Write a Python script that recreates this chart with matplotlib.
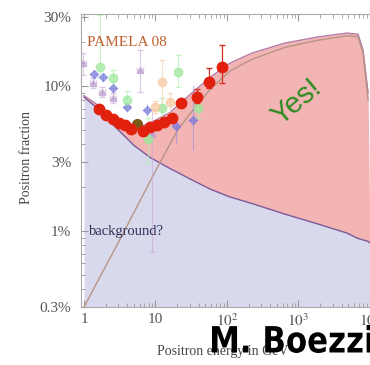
import matplotlib.pyplot as plt
from matplotlib.ticker import LogLocator, NullFormatter, FixedLocator, FixedFormatter
from matplotlib.textpath import TextPath
from matplotlib.patches import PathPatch
from matplotlib.font_manager import FontProperties
from matplotlib.transforms import Affine2D

plt.rcParams['mathtext.fontset'] = 'stix'
SERIF = 'Liberation Serif'

# model curves: secondary background and background + extra source
energy = [1, 1.5, 2, 3, 5, 8.4, 16, 30, 58, 110, 224, 646, 1870, 4750, 6800, 8000, 9400, 10000, 14000]
background = [0.084, 0.071, 0.061, 0.050, 0.039, 0.0322, 0.027, 0.023, 0.0195, 0.0172,
              0.0155, 0.0131, 0.0112, 0.0097, 0.0089, 0.0087, 0.0085, 0.0083, 0.0075]
total = [0.086, 0.075, 0.066, 0.058, 0.051, 0.0556, 0.066, 0.087, 0.115, 0.144,
         0.169, 0.198, 0.218, 0.232, 0.228, 0.177, 0.09, 0.0083, 0.0075]

sig_energy = [1, 3, 10, 20, 30, 58, 110, 224, 646, 1870, 4750, 6800, 8000, 9400]
sig_frac = [0.003, 0.0083, 0.026, 0.049, 0.064, 0.095, 0.127, 0.153, 0.185, 0.207,
            0.222, 0.219, 0.168, 0.08]

# PAMELA 2008 positron fraction
pam_e = [1.62, 2.03, 2.55, 3.09, 3.74, 4.54, 6.69, 8.38, 10.5, 13.1, 17.0, 22.7, 38.1, 56, 85]
pam_f = [0.0693, 0.0631, 0.0592, 0.0556, 0.0539, 0.0505, 0.0489, 0.0522, 0.0539, 0.0565,
         0.0601, 0.0764, 0.084, 0.1066, 0.135]
pam_lo = [0.0693, 0.0631, 0.0592, 0.0556, 0.0539, 0.0505, 0.0489, 0.0522, 0.0539, 0.0565,
          0.0601, 0.072, 0.0763, 0.097, 0.105]
pam_hi = [0.0693, 0.0631, 0.0592, 0.0556, 0.0539, 0.0505, 0.0489, 0.0522, 0.0539, 0.0565,
          0.0601, 0.081, 0.0954, 0.133, 0.192]

# older measurements
green_e = [1.67, 2.55, 4.0, 7.85, 12.3, 20.6, 39.3]
green_f = [0.135, 0.1136, 0.080, 0.0431, 0.0705, 0.125, 0.0705]
green_lo = [0.115, 0.098, 0.070, 0.0294, 0.060, 0.0985, 0.060]
green_hi = [0.31, 0.130, 0.092, 0.060, 0.083, 0.164, 0.080]

blue_e = [1.38, 1.84, 2.55, 4.0, 7.6, 19.4, 33.5]
blue_f = [0.121, 0.115, 0.0969, 0.0716, 0.0683, 0.053, 0.0583]
blue_lo = [0.112, 0.107, 0.090, 0.066, 0.062, 0.0404, 0.0362]
blue_hi = [0.130, 0.123, 0.104, 0.077, 0.075, 0.060, 0.1016]

tri_e = [0.97, 1.34, 1.79, 2.55, 6.07, 8.9]
tri_f = [0.144, 0.105, 0.0909, 0.0827, 0.129, 0.047]
tri_lo = [0.119, 0.097, 0.084, 0.076, 0.091, 0.0072]
tri_hi = [0.169, 0.114, 0.098, 0.090, 0.177, 0.070]

orange_e = [9.84, 12.3, 16.0]
orange_f = [0.0716, 0.1066, 0.0776]
orange_lo = [0.065, 0.0705, 0.065]
orange_hi = [0.079, 0.151, 0.090]

heat_e = [5.5]
heat_f = [0.0547]


def err(f, lo, hi):
    return [[v - l for v, l in zip(f, lo)], [h - v for v, h in zip(f, hi)]]


def squeezed_text(fig, text, box, color='black'):
    # bold condensed caption: glyph outlines stretched into a pixel box
    path = TextPath((0, 0), text, size=1,
                    prop=FontProperties(family='DejaVu Sans', weight='bold'))
    ext = path.get_extents()
    x0, y0, x1, y1 = box
    W, H = fig.get_size_inches() * fig.dpi
    sx = (x1 - x0) / ext.width / W
    sy = (y1 - y0) / ext.height / H
    tr = Affine2D().translate(-ext.x0, -ext.y0).scale(sx, sy).translate(x0 / W, y0 / H)
    fig.patches.append(PathPatch(path, transform=tr + fig.transFigure,
                                 facecolor=color, edgecolor='none', zorder=10))


fig = plt.figure(figsize=(3.7, 3.65), dpi=100)
ax = fig.add_axes([81 / 370, 58 / 365, 299 / 370, 293 / 365])
ax.set_xscale('log')
ax.set_yscale('log')
ax.set_xlim(0.908, 13800)
ax.set_ylim(0.003, 0.314)

ax.fill_between(energy, 0.003, background, color='#d9d9ee', lw=0, zorder=1)
ax.fill_between(energy, background, total, color='#f3b4b4', lw=0, zorder=1)
ax.plot(energy, background, color='#7a5a9a', lw=1.0, zorder=2)
ax.plot(energy[:-2], total[:-2], color='#b47ca8', lw=1.0, zorder=2)
ax.plot(sig_energy, sig_frac, color='#b89484', lw=1.0, zorder=2)

ax.errorbar(tri_e, tri_f, yerr=err(tri_f, tri_lo, tri_hi),
            xerr=[[e * 0.1 for e in tri_e], [e * 0.1 for e in tri_e]],
            fmt='^', ms=5, color='#b898cc', ecolor='#c8a8d8', elinewidth=0.8,
            capsize=2, alpha=0.6, zorder=3)
ax.errorbar(blue_e, blue_f, yerr=err(blue_f, blue_lo, blue_hi),
            xerr=[[e * 0.15 for e in blue_e], [e * 0.15 for e in blue_e]],
            fmt='D', ms=4, color='#7474dc', ecolor='#9090e0', elinewidth=0.8,
            capsize=0, alpha=0.6, zorder=3)
ax.errorbar(green_e, green_f, yerr=err(green_f, green_lo, green_hi),
            fmt='o', ms=6, color='#9ae89a', ecolor='#b0f0b0', elinewidth=0.8,
            capsize=2, alpha=0.7, zorder=3)
ax.errorbar(orange_e, orange_f, yerr=err(orange_f, orange_lo, orange_hi),
            fmt='o', ms=6, color='#f7c8a0', ecolor='#f7d0b0', elinewidth=0.8,
            capsize=2, alpha=0.7, zorder=3)
ax.plot(heat_e, heat_f, 'o', ms=7, color='#7a5a1a', zorder=4)
ax.errorbar(pam_e, pam_f, yerr=err(pam_f, pam_lo, pam_hi),
            fmt='o', ms=7.5, color='#e2200e', ecolor='#d83020', elinewidth=0.9,
            capsize=2.5, zorder=5)

ax.xaxis.set_major_locator(FixedLocator([1, 10, 100, 1000, 10000]))
ax.xaxis.set_major_formatter(FixedFormatter(['1', '10', r'$10^2$', r'$10^3$', r'$10^4$']))
ax.xaxis.set_minor_locator(LogLocator(base=10, subs=range(2, 10), numticks=20))
ax.xaxis.set_minor_formatter(NullFormatter())
ax.yaxis.set_major_locator(FixedLocator([0.003, 0.01, 0.03, 0.1, 0.3]))
ax.yaxis.set_major_formatter(FixedFormatter(['0.3%', '1%', '3%', '10%', '30%']))
ax.yaxis.set_minor_locator(LogLocator(base=10, subs=range(2, 10), numticks=20))
ax.yaxis.set_minor_formatter(NullFormatter())

ax.tick_params(which='both', direction='in', top=True, right=False, color='#999999',
               labelcolor='#555555', labelsize=11)
ax.tick_params(which='major', length=5, width=0.8)
ax.tick_params(which='minor', length=3, width=0.6)
ax.tick_params(axis='y', pad=7)
ax.tick_params(axis='x', pad=4)
for lab in ax.get_xticklabels() + ax.get_yticklabels():
    lab.set_fontfamily(SERIF)
for side in ['left', 'bottom', 'top']:
    ax.spines[side].set_color('#aaaaaa')
    ax.spines[side].set_linewidth(0.8)
ax.spines['right'].set_visible(False)

ax.text(0.02, 0.904, 'PAMELA 08', transform=ax.transAxes, family=SERIF,
        fontsize=11, color='#c0602e', va='center', ha='left', zorder=6)
ax.text(0.027, 0.259, 'background?', transform=ax.transAxes, family=SERIF,
        fontsize=10.5, color='#303055', va='center', ha='left', zorder=6)
ax.text(0.722, 0.70, 'Yes!', transform=ax.transAxes, family='Liberation Sans',
        fontsize=21, color='#2e8b22', rotation=40, va='center', ha='center', zorder=6)

fig.text(27 / 370, 1 - 158 / 365, 'Positron fraction', rotation=90, family=SERIF,
         fontsize=10, color='#444444', ha='center', va='center')
fig.text(157 / 370, 1 - 352 / 365, 'Positron energy in GeV', family=SERIF,
         fontsize=10, color='#444444', ha='left', va='center')
squeezed_text(fig, 'M. Boezzi', (212, 365 - 353, 372, 365 - 325))

fig.savefig('out.png', dpi=100)
